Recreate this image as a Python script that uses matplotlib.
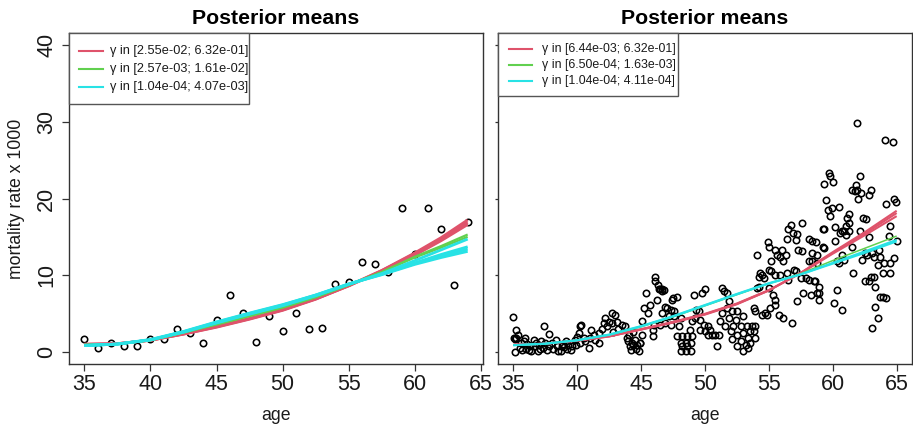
import matplotlib
matplotlib.use("Agg")
import matplotlib.pyplot as plt
from matplotlib.patches import Rectangle

plt.rcParams['font.family'] = ['Liberation Sans', 'DejaVu Sans']

# ---------------- data ----------------
title = "Posterior means"
xlabel = "age"
ylabel = "mortality rate x 1000"
xticks = [35, 40, 45, 50, 55, 60, 65]
yticks = [0, 10, 20, 30, 40]

colors = ["#DF536B", "#61D04F", "#28E2E5"]

# Left panel: observed rates (one per age)
ages_left = list(range(35, 65))
rates_left = [1.7, 0.5, 1.2, 0.7, 0.8, 1.7, 1.7, 3.0, 2.4, 1.1,
              4.2, 7.4, 5.1, 1.3, 4.7, 2.65, 5.1, 3.0, 3.1, 8.9,
              9.1, 11.7, 11.4, 10.4, 18.7, 12.7, 18.8, 16.0, 8.65, 16.9]

# Left panel posterior-mean curves
curve_ages_left = [35, 37.5, 40, 42.5, 45, 47.5, 50, 52.5, 55, 57.5, 60, 62, 64]
left_red = [
    [0.95, 1.05, 1.5, 2.3, 3.2, 4.25, 5.4, 6.85, 8.6, 10.6, 12.9, 14.9, 17.2],
    [0.95, 1.05, 1.5, 2.3, 3.25, 4.3, 5.45, 6.9, 8.65, 10.6, 12.8, 14.7, 16.9],
    [1.0, 1.05, 1.5, 2.35, 3.3, 4.35, 5.5, 6.9, 8.6, 10.5, 12.6, 14.5, 16.6],
]
left_green = [
    [0.9, 1.0, 1.5, 2.5, 3.55, 4.65, 5.75, 7.1, 8.7, 10.4, 12.4, 13.8, 15.3],
    [0.9, 1.0, 1.5, 2.5, 3.6, 4.7, 5.8, 7.15, 8.75, 10.4, 12.3, 13.6, 15.0],
]
left_cyan = [
    [0.85, 1.0, 1.55, 2.55, 3.75, 4.9, 6.0, 7.3, 8.8, 10.2, 11.9, 13.3, 14.7],
    [0.8, 1.0, 1.55, 2.6, 3.8, 4.95, 6.05, 7.35, 8.8, 10.15, 11.6, 12.7, 13.7],
    [0.8, 1.0, 1.55, 2.6, 3.85, 5.0, 6.1, 7.4, 8.85, 10.1, 11.5, 12.5, 13.4],
    [0.8, 1.0, 1.6, 2.65, 3.9, 5.05, 6.15, 7.4, 8.85, 10.05, 11.4, 12.3, 13.1],
]
legend_left = ["γ in [2.55e-02; 6.32e-01]",
               "γ in [2.57e-03; 1.61e-02]",
               "γ in [1.04e-04; 4.07e-03]"]

# Right panel: observed rates (many observations)
right_points = [
    (35.0, 4.5), (35.05, 1.8), (35.1, 1.7), (35.2, 2.9), (35.2, 1.8), (35.4, 2.2), (35.1, 0.0),
    (35.8, 1.35), (35.9, 1.8), (36.05, 1.0), (36.2, 0.2), (36.3, 0.7), (36.6, 1.5), (36.7, 0.7),
    (36.9, 0.15), (37.0, 0.9), (37.1, 0.3), (37.4, 3.3), (37.8, 2.3), (37.5, 1.1), (37.8, 0.7),
    (38.0, 1.1), (38.3, 1.5), (38.4, 0.7), (38.7, 0.05), (38.8, 0.7), (39.1, 1.35), (39.2, 0.3),
    (39.3, 0.9), (39.6, 0.7), (39.8, 1.5), (40.0, 1.9), (40.1, 2.4), (40.2, 3.3), (40.3, 3.5),
    (40.2, 1.1), (40.5, 1.8), (40.6, 1.35), (40.9, 0.5), (41.0, 1.8), (41.1, 2.9), (41.3, 2.2),
    (41.4, 1.5), (41.7, 1.1), (41.7, 2.4), (41.9, 3.0), (42.1, 3.7), (42.2, 4.4), (42.3, 3.3),
    (42.45, 3.9), (42.7, 3.7), (42.8, 2.6), (42.95, 4.8), (43.1, 3.9), (43.2, 3.0), (43.5, 3.5),
    (43.7, 3.3), (43.9, 1.8), (44.0, 1.35), (44.1, 0.7), (44.3, 1.1), (44.4, 0.9), (44.5, 1.5),
    (44.8, 0.05), (44.9, 1.1),
    (35.5, 0.5), (35.7, 0.2), (36.0, 0.4), (36.4, 0.1), (37.3, 0.5), (37.6, 0.2), (38.1, 0.4),
    (38.5, 0.1), (39.0, 0.6), (39.5, 0.2), (39.9, 0.9), (36.8, 1.2), (38.9, 1.0), (37.2, 1.4),
    (35.6, 1.2), (44.6, 0.4), (44.2, 0.2), (44.7, 0.9), (44.05, 2.2), (44.4, 2.6), (42.7, 5.0),
    (46.1, 9.8), (46.1, 9.2), (46.3, 8.65), (46.5, 8.2), (46.65, 8.2), (46.8, 8.0), (46.4, 8.2),
    (46.6, 7.9), (45.4, 7.65), (46.25, 6.8), (45.7, 6.1), (45.2, 5.7), (45.5, 5.0), (45.1, 4.0),
    (46.0, 3.5), (45.9, 2.0), (45.1, 2.2), (44.95, 1.1), (45.9, 2.9),
    (47.5, 7.0), (47.4, 6.8), (47.8, 7.2), (46.9, 5.9), (47.0, 5.7), (47.3, 5.5), (47.6, 5.3),
    (47.2, 4.6), (47.6, 4.6), (46.6, 5.0), (48.1, 4.4), (48.0, 3.3), (47.3, 3.5), (46.9, 3.7),
    (46.5, 3.5),
    (49.1, 7.35), (49.8, 7.65), (50.0, 8.2), (49.3, 5.5), (49.5, 5.3), (49.25, 4.4), (49.6, 4.2),
    (49.9, 3.5), (49.0, 4.0), (48.8, 2.9),
    (47.8, 2.0), (48.2, 2.0), (48.6, 2.0), (49.0, 2.0), (48.1, 1.1), (48.5, 1.1), (48.9, 1.1),
    (48.1, 0.04), (48.5, 0.04), (48.9, 0.04), (48.2, 0.7), (48.6, 0.7),
    (50.2, 3.3), (50.4, 2.9), (50.55, 2.2), (50.2, 2.2), (50.8, 2.2), (51.1, 2.2), (50.9, 0.7),
    (49.6, 2.9), (50.0, 2.65),
    (51.3, 8.3), (51.5, 7.9), (51.7, 7.65), (51.85, 6.6), (51.7, 5.7), (51.3, 5.0), (52.1, 5.3),
    (52.5, 5.3), (51.85, 4.4), (52.4, 4.2), (51.2, 4.0), (51.6, 3.3), (52.2, 3.3), (52.8, 3.3),
    (52.0, 2.65), (52.5, 2.2), (53.0, 2.4), (52.1, 1.6), (52.8, 1.35), (52.5, 0.7), (53.0, 0.04),
    (53.0, 4.6), (53.3, 3.3), (53.7, 3.3), (53.9, 3.3), (53.5, 2.65), (53.8, 2.65), (53.4, 1.8),
    (53.9, 1.8), (53.2, 0.9), (53.5, 1.1), (53.4, 0.5),
    (54.1, 8.3), (54.2, 8.5), (53.8, 5.7), (53.9, 5.3), (54.45, 4.8), (54.85, 4.8), (54.7, 5.0),
    (55.1, 5.7), (55.5, 6.1), (55.3, 7.4), (55.5, 6.8), (55.0, 8.3),
    (54.2, 9.8), (54.45, 10.0), (54.6, 9.6), (55.0, 10.7), (55.2, 10.5), (54.1, 12.65),
    (55.2, 11.9), (56.1, 11.8), (55.9, 12.4), (55.8, 4.8), (56.1, 4.4), (55.9, 10.0),
    (56.4, 10.3), (56.5, 9.4), (54.3, 10.3), (55.5, 10.0),
    (57.6, 13.1), (58.4, 12.9), (58.8, 12.65), (58.1, 11.8), (58.4, 11.8), (58.8, 11.6),
    (56.95, 10.7), (57.1, 10.5), (57.5, 9.6), (57.9, 9.6), (58.1, 9.4), (58.5, 9.2), (58.6, 9.2),
    (58.9, 8.5), (58.8, 7.65), (57.7, 7.65), (58.3, 7.4), (58.9, 7.65), (57.2, 6.6), (58.9, 6.8),
    (60.3, 11.8), (60.5, 11.6), (60.9, 12.0), (60.7, 12.65), (62.3, 12.0), (62.7, 12.65),
    (63.1, 12.9), (63.6, 13.3), (63.5, 11.35), (64.0, 11.6), (64.5, 11.6), (64.8, 12.2),
    (63.7, 12.4), (61.6, 10.3), (62.55, 9.2), (62.8, 9.2), (63.0, 9.8), (63.2, 9.8), (63.3, 8.5),
    (63.9, 10.3), (64.5, 10.3), (60.3, 8.1), (60.1, 6.35), (60.7, 5.5), (63.7, 7.2), (63.9, 7.2),
    (64.2, 7.0), (63.3, 5.9), (63.5, 4.4), (63.1, 3.1), (56.8, 3.7), (57.3, 13.3), (59.2, 13.7),
    (59.3, 13.5), (55.5, 13.3), (56.0, 13.3), (55.6, 12.65), (56.3, 12.65), (55.0, 13.7),
    (61.5, 13.7), (62.5, 12.9), (63.2, 12.4),
    (61.9, 29.8), (64.1, 27.6), (64.7, 27.4), (59.7, 23.3), (59.8, 22.9), (60.0, 22.2),
    (59.35, 21.9), (62.1, 22.9), (61.8, 21.8), (61.5, 21.1), (61.7, 21.0), (61.9, 21.1),
    (62.2, 20.7), (62.0, 19.9), (63.0, 21.1), (62.8, 20.5), (59.5, 19.8), (64.8, 20.0),
    (64.95, 19.6), (64.2, 19.3), (59.6, 18.5), (59.95, 18.8), (60.5, 18.9), (59.8, 17.7),
    (61.25, 18.0), (61.1, 17.4), (61.3, 16.8), (61.0, 16.35), (62.4, 17.4), (62.6, 17.35),
    (64.45, 16.4), (59.3, 16.0), (59.2, 16.0), (60.15, 16.3), (60.7, 15.7), (60.6, 15.5),
    (61.0, 15.3), (61.3, 15.8), (60.9, 15.8), (62.8, 14.95), (64.4, 15.1), (57.6, 16.8),
    (56.7, 16.6), (56.5, 16.0), (56.9, 15.5), (57.2, 15.4), (56.4, 14.7), (57.1, 14.6),
    (58.1, 14.7), (54.9, 14.3), (58.4, 14.4), (58.65, 14.3), (65.0, 14.4), (62.1, 15.7),
    (60.2, 14.4),
]
ages_right = [p[0] for p in right_points]
rates_right = [p[1] for p in right_points]

curve_ages_right = [35, 37.5, 40, 42.5, 45, 47.5, 50, 52.5, 55, 57.5, 60, 62.5, 65]
right_red = [
    [0.9, 1.05, 1.45, 2.0, 2.9, 3.8, 4.85, 6.2, 8.0, 10.3, 13.0, 15.6, 18.4],
    [0.9, 1.05, 1.45, 2.0, 2.9, 3.85, 4.9, 6.25, 8.0, 10.3, 12.9, 15.4, 18.1],
    [0.9, 1.05, 1.5, 2.05, 2.95, 3.9, 4.95, 6.3, 8.05, 10.25, 12.8, 15.2, 17.7],
]
right_green = [
    [0.85, 1.05, 1.5, 2.2, 3.25, 4.55, 6.0, 7.45, 8.9, 10.2, 11.9, 13.5, 15.1],
]
right_cyan = [
    [0.85, 1.05, 1.5, 2.2, 3.3, 4.6, 6.05, 7.5, 8.9, 10.1, 11.6, 13.1, 14.6],
    [0.85, 1.05, 1.5, 2.25, 3.35, 4.65, 6.1, 7.55, 8.95, 10.1, 11.5, 12.9, 14.4],
]
legend_right = ["γ in [6.44e-03; 6.32e-01]",
                "γ in [6.50e-04; 1.63e-03]",
                "γ in [1.04e-04; 4.11e-04]"]

# ---------------- figure ----------------
W, H = 913, 426
fig = plt.figure(figsize=(W / 100, H / 100), dpi=100)

def fx(px):
    return px / W

def fy(py):
    return (H - py) / H

ax1 = fig.add_axes([fx(69), fy(364), fx(483) - fx(69), fy(33) - fy(364)])
ax2 = fig.add_axes([fx(498), fy(364), fx(912) - fx(498), fy(33) - fy(364)])

box_col = "#333333"
text_col = "#1a1a1a"


def style(ax, xmin, xmax, ylabels=True):
    ax.set_xlim(xmin - 0.04 * (xmax - xmin), xmax + 0.04 * (xmax - xmin))
    ax.set_ylim(-1.6, 41.6)
    ax.set_xticks(xticks)
    ax.set_yticks(yticks)
    for s in ax.spines.values():
        s.set_color(box_col)
        s.set_linewidth(1.0)
    ax.tick_params(axis='x', length=5, width=0.9, color=box_col, pad=2,
                   labelsize=15.5, labelcolor=text_col)
    if ylabels:
        ax.tick_params(axis='y', length=5, width=0.9, color=box_col, pad=3.4,
                       labelsize=15.5, labelcolor=text_col)
        for lab in ax.get_yticklabels():
            lab.set_rotation(90)
            lab.set_va('center')
    else:
        ax.tick_params(axis='y', length=2.5, width=0.9, color=box_col,
                       labelleft=False)
    ax.set_title(title, fontsize=15.3, fontweight='bold', pad=6.3, color='black')
    ax.set_xlabel(xlabel, fontsize=12.7, color=text_col)
    ax.xaxis.set_label_coords(0.5, (364 - 419.7) / 331)
    ax.xaxis.label.set_va('baseline')


def legend(ax, labels, x1, x_line0, x_line1, x_text, y_bottom, rows, fs):
    ax.add_patch(Rectangle((0, y_bottom), x1, 1 - y_bottom, transform=ax.transAxes,
                           facecolor='white', edgecolor='#555555', lw=1.0,
                           zorder=5, clip_on=False))
    for lab, c, yy in zip(labels, colors, rows):
        ax.plot([x_line0, x_line1], [yy, yy], color=c, lw=1.5,
                transform=ax.transAxes, zorder=6, clip_on=False)
        ax.text(x_text, yy, lab, transform=ax.transAxes, fontsize=fs,
                va='center', ha='left', color=text_col, zorder=6)


# Left panel
style(ax1, 35, 64, ylabels=True)
ax1.plot(ages_left, rates_left, linestyle='none', marker='o', ms=4.6,
         mfc='none', mec='black', mew=1.15, zorder=2)
for ys in left_red:
    ax1.plot(curve_ages_left, ys, color=colors[0], lw=2.0, zorder=3,
             solid_capstyle='butt')
for ys in left_green:
    ax1.plot(curve_ages_left, ys, color=colors[1], lw=1.6, zorder=3,
             solid_capstyle='butt')
for ys in left_cyan:
    ax1.plot(curve_ages_left, ys, color=colors[2], lw=2.0, zorder=3,
             solid_capstyle='butt')
ax1.set_ylabel(ylabel, fontsize=12.7, color=text_col)
ax1.yaxis.set_label_coords((16.5 - 69) / 414, 0.5)
ax1.yaxis.label.set_va('center')
legend(ax1, legend_left, (249 - 69) / 414, (79 - 69) / 414, (103 - 69) / 414,
       (110 - 69) / 414, (364 - 104) / 331,
       [(364 - 50.7) / 331, (364 - 69) / 331, (364 - 87.3) / 331], 9.2)

# Right panel
style(ax2, 35, 65, ylabels=False)
ax2.plot(ages_right, rates_right, linestyle='none', marker='o', ms=4.6,
         mfc='none', mec='black', mew=1.15, zorder=2)
for ys in right_red:
    ax2.plot(curve_ages_right, ys, color=colors[0], lw=1.5, zorder=3,
             solid_capstyle='butt')
for ys in right_green:
    ax2.plot(curve_ages_right, ys, color=colors[1], lw=1.1, zorder=3,
             solid_capstyle='butt')
for ys in right_cyan:
    ax2.plot(curve_ages_right, ys, color=colors[2], lw=1.5, zorder=3,
             solid_capstyle='butt')
legend(ax2, legend_right, (678 - 498) / 414, (509 - 498) / 414, (531.7 - 498) / 414,
       (541.7 - 498) / 414, (364 - 96) / 331,
       [(364 - 49.3) / 331, (364 - 65) / 331, (364 - 80.7) / 331], 8.9)

fig.savefig("out.png", dpi=100)
